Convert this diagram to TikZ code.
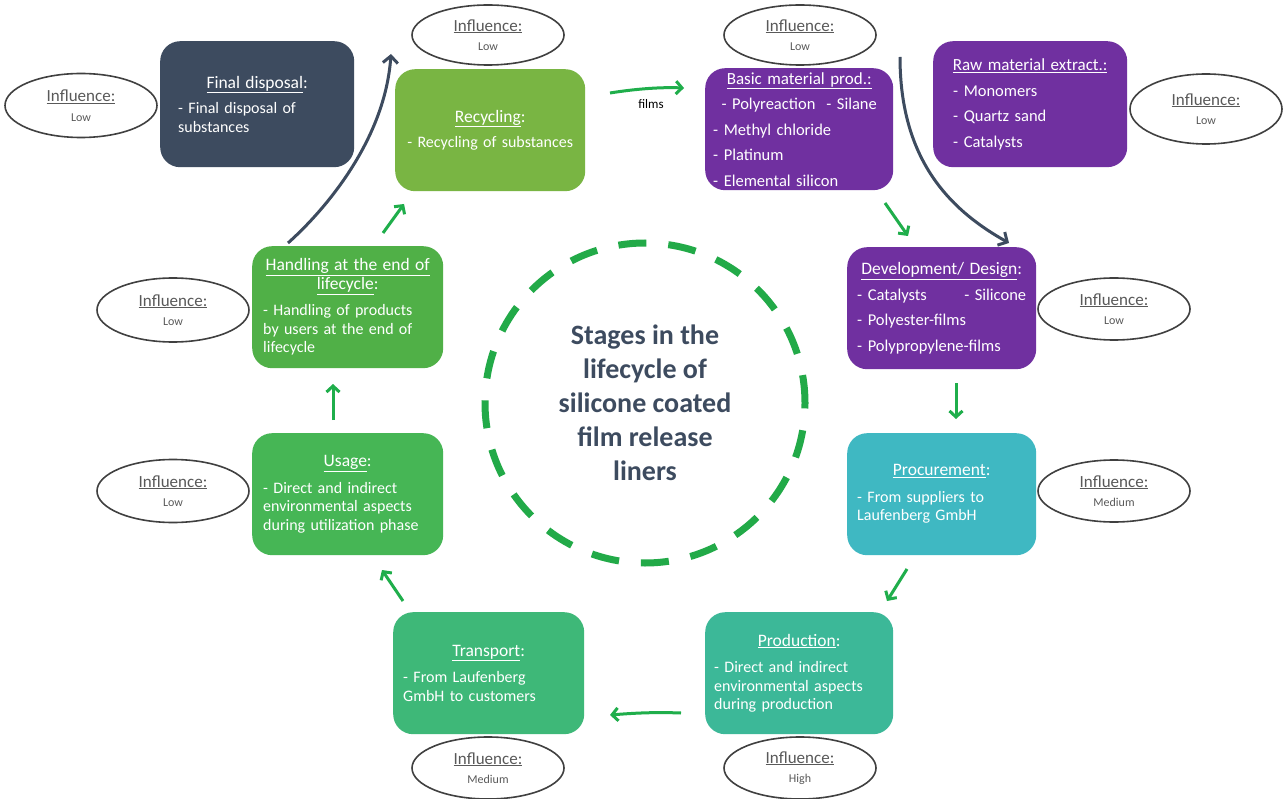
\documentclass[tikz,border=0pt]{standalone}
\usepackage{fontspec}
\setmainfont{Carlito}
\usetikzlibrary{shapes.geometric,arrows.meta,calc}
\definecolor{slate}{HTML}{3D4B5F}
\definecolor{recgreen}{HTML}{79B543}
\definecolor{handgreen}{HTML}{50B047}
\definecolor{usegreen}{HTML}{46B655}
\definecolor{transgreen}{HTML}{3EB878}
\definecolor{prodteal}{HTML}{3CB898}
\definecolor{procteal}{HTML}{3FB8C2}
\definecolor{purp}{HTML}{7030A0}
\definecolor{arrgreen}{HTML}{1FAE4B}
\definecolor{ringgreen}{HTML}{22AA48}
\definecolor{inftext}{HTML}{595959}
\definecolor{infline}{HTML}{404040}
\newcommand\ttlfont{\fontsize{17.5}{18.5}\selectfont}
\newcommand\ftitle[1]{\noindent\hbox to\hsize{\hss\ttlfont #1\hss}}
\newcommand\stitle[1]{\par\hbox to\hsize{\hss\ttlfont #1\hss}}
\newcommand\sctr[1]{\par\hbox to\hsize{\hss#1\hss}}
\newcommand\sline[1]{\par\hbox to\hsize{#1\hss}}
\newcommand\sgap[1]{\par\vskip#1\relax}
\newcommand\boxfont{\fontsize{16}{18.5}\selectfont\lineskiplimit=-100pt\relax}
\newcommand\purpfont{\fontsize{16.5}{25.5}\selectfont\lineskiplimit=-100pt\relax}
\tikzset{
  stagebox/.style={rounded corners=20pt, inner ysep=0pt, text=white, anchor=north west,
    minimum height=122pt, font=\boxfont},
  purplebox/.style={stagebox, fill=purp, font=\purpfont},
  infl/.style={ellipse, draw=infline, line width=1.6pt, minimum width=152pt, minimum height=62pt,
    inner sep=0pt, align=center, text=inftext, font=\fontsize{17}{19.5}\selectfont},
  garrow/.style={draw=arrgreen, line width=3pt, -{Straight Barb[length=6pt,width=13pt]}},
  darrow/.style={draw=slate, line width=3pt, -{Straight Barb[length=7pt,width=15pt]}},
}
\newcommand\lowtxt[1]{{\fontsize{12}{14}\selectfont #1}}
\begin{document}
\begin{tikzpicture}[x=1pt,y=-1pt]
\useasboundingbox (0,0) rectangle (1287,799);
\fill[white] (0,0) rectangle (1287,799);

% ring with title
\node[circle, draw=ringgreen, line width=7pt, dash pattern=on 28pt off 22pt, minimum size=320pt,
  inner sep=0pt, align=center, text=slate, font=\fontsize{28}{34}\selectfont\bfseries] (ring) at (645,403)
  {Stages in the\\lifecycle of\\silicone coated\\film release\\liners};

% stage boxes
\node[stagebox, fill=slate, minimum width=194pt, minimum height=126pt, inner xsep=18pt, text width=158pt] (fd) at (160,41)
  {\ftitle{\underline{Final disposal}:}\sgap{7pt}\sline{- Final disposal of}\sline{substances}};
\node[stagebox, fill=recgreen, minimum width=190pt, inner xsep=10pt, text width=170pt] (rec) at (395,69)
  {\ftitle{\underline{Recycling}:}\sgap{7pt}\sctr{- Recycling of substances}};
\node[purplebox, minimum width=188pt, inner xsep=8pt, text width=172pt] (basic) at (705,68)
  {\ftitle{\fontsize{17}{18}\selectfont\underline{Basic material prod.:}}\sctr{- Polyreaction\ \ - Silane}\sline{- Methyl chloride}\sline{- Platinum}\sline{- Elemental silicon}};
\node[purplebox, minimum width=194pt, minimum height=126pt, inner xsep=20pt, text width=154pt] (raw) at (933,41)
  {\ftitle{\fontsize{17}{18}\selectfont\underline{Raw material extract.:}}\sline{- Monomers}\sline{- Quartz sand}\sline{- Catalysts}};
\node[purplebox, minimum width=189pt, inner xsep=10pt, text width=169pt] (dev) at (847,247)
  {\ftitle{\underline{Development/ Design}:}\sline{- Catalysts\hfill- Silicone}\sline{- Polyester-films}\sline{- Polypropylene-films}};
\node[stagebox, fill=procteal, minimum width=189pt, inner xsep=10pt, text width=169pt] (proc) at (847,433)
  {\ftitle{\underline{Procurement}:}\sgap{8pt}\sline{- From suppliers to}\sline{Laufenberg GmbH}};
\node[stagebox, fill=prodteal, minimum width=188pt, inner xsep=9pt, text width=170pt] (prod) at (705,612)
  {\ftitle{\underline{Production}:}\sgap{8pt}\sline{- Direct and indirect}\sline{environmental aspects}\sline{during production}};
\node[stagebox, fill=transgreen, minimum width=191pt, inner xsep=10pt, text width=171pt] (trans) at (393,612)
  {\ftitle{\underline{Transport}:}\sgap{8pt}\sline{- From Laufenberg}\sline{GmbH to customers}};
\node[stagebox, fill=usegreen, minimum width=191pt, inner xsep=11pt, text width=169pt] (use) at (252,433)
  {\ftitle{\underline{Usage}:}\sgap{8pt}\sline{- Direct and indirect}\sline{environmental aspects}\sline{during utilization phase}};
\node[stagebox, fill=handgreen, minimum width=191pt, inner xsep=11pt, text width=169pt] (hand) at (252,246)
  {\ftitle{\underline{Handling at the end of}}\stitle{\underline{lifecycle}:}\sgap{8pt}\sline{- Handling of products}\sline{by users at the end of}\sline{lifecycle}};

% influence ellipses
\node[infl, minimum height=64pt] (ifd) at (81,105.5) {\underline{Influence:}\\\lowtxt{Low}};
\node[infl, minimum height=60pt] (irec) at (488,35) {\underline{Influence:}\\\lowtxt{Low}};
\node[infl, minimum height=60pt] (ibasic) at (800,35) {\underline{Influence:}\\\lowtxt{Low}};
\node[infl, minimum height=70pt] (iraw) at (1206,109) {\underline{Influence:}\\\lowtxt{Low}};
\node[infl] (idev) at (1114,309) {\underline{Influence:}\\\lowtxt{Low}};
\node[infl] (iproc) at (1114,491) {\underline{Influence:}\\\lowtxt{Medium}};
\node[infl] (iprod) at (800,768) {\underline{Influence:}\\\lowtxt{High}};
\node[infl] (itrans) at (488,768) {\underline{Influence:}\\\lowtxt{Medium}};
\node[infl, minimum height=63pt] (iuse) at (173,491) {\underline{Influence:}\\\lowtxt{Low}};
\node[infl, minimum height=64pt] (ihand) at (173,310) {\underline{Influence:}\\\lowtxt{Low}};

% arrow end points
\coordinate (recR) at (610,93);   \coordinate (basicL) at (684,88);
\coordinate (basicB) at (885,203); \coordinate (devT) at (908,236);
\coordinate (devB) at (956,383);  \coordinate (procT) at (956,419);
\coordinate (procB) at (907,569); \coordinate (prodT) at (887,601);
\coordinate (prodL) at (681,713); \coordinate (transR) at (610,715);
\coordinate (transT) at (403,601); \coordinate (useB) at (382,570);
\coordinate (useT) at (333,420);  \coordinate (handB) at (333,384);
\coordinate (handT) at (383,233); \coordinate (recB) at (404,204);
\coordinate (handTL) at (288,243); \coordinate (upEnd) at (391,54);
\coordinate (basicTR) at (900,57); \coordinate (devTR) at (1009,243);

% green flow arrows
\draw[garrow] (recR) .. controls (635,89) and (660,87) .. (basicL);
\node[font=\fontsize{13}{15}\selectfont, text=black] (films) at (651,104) {films};
\draw[garrow] (basicB) -- (devT);
\draw[garrow] (devB) -- (procT);
\draw[garrow] (procB) -- (prodT);
\draw[garrow] (prodL) .. controls (655,712) and (635,713) .. (transR);
\draw[garrow] (transT) -- (useB);
\draw[garrow] (useT) -- (handB);
\draw[garrow] (handT) -- (recB);

% dark curved arrows
\draw[darrow] (handTL) .. controls (325,210) and (385,140) .. (upEnd);
\draw[darrow] (basicTR) .. controls (900,160) and (950,210) .. (devTR);
\end{tikzpicture}
\end{document}
